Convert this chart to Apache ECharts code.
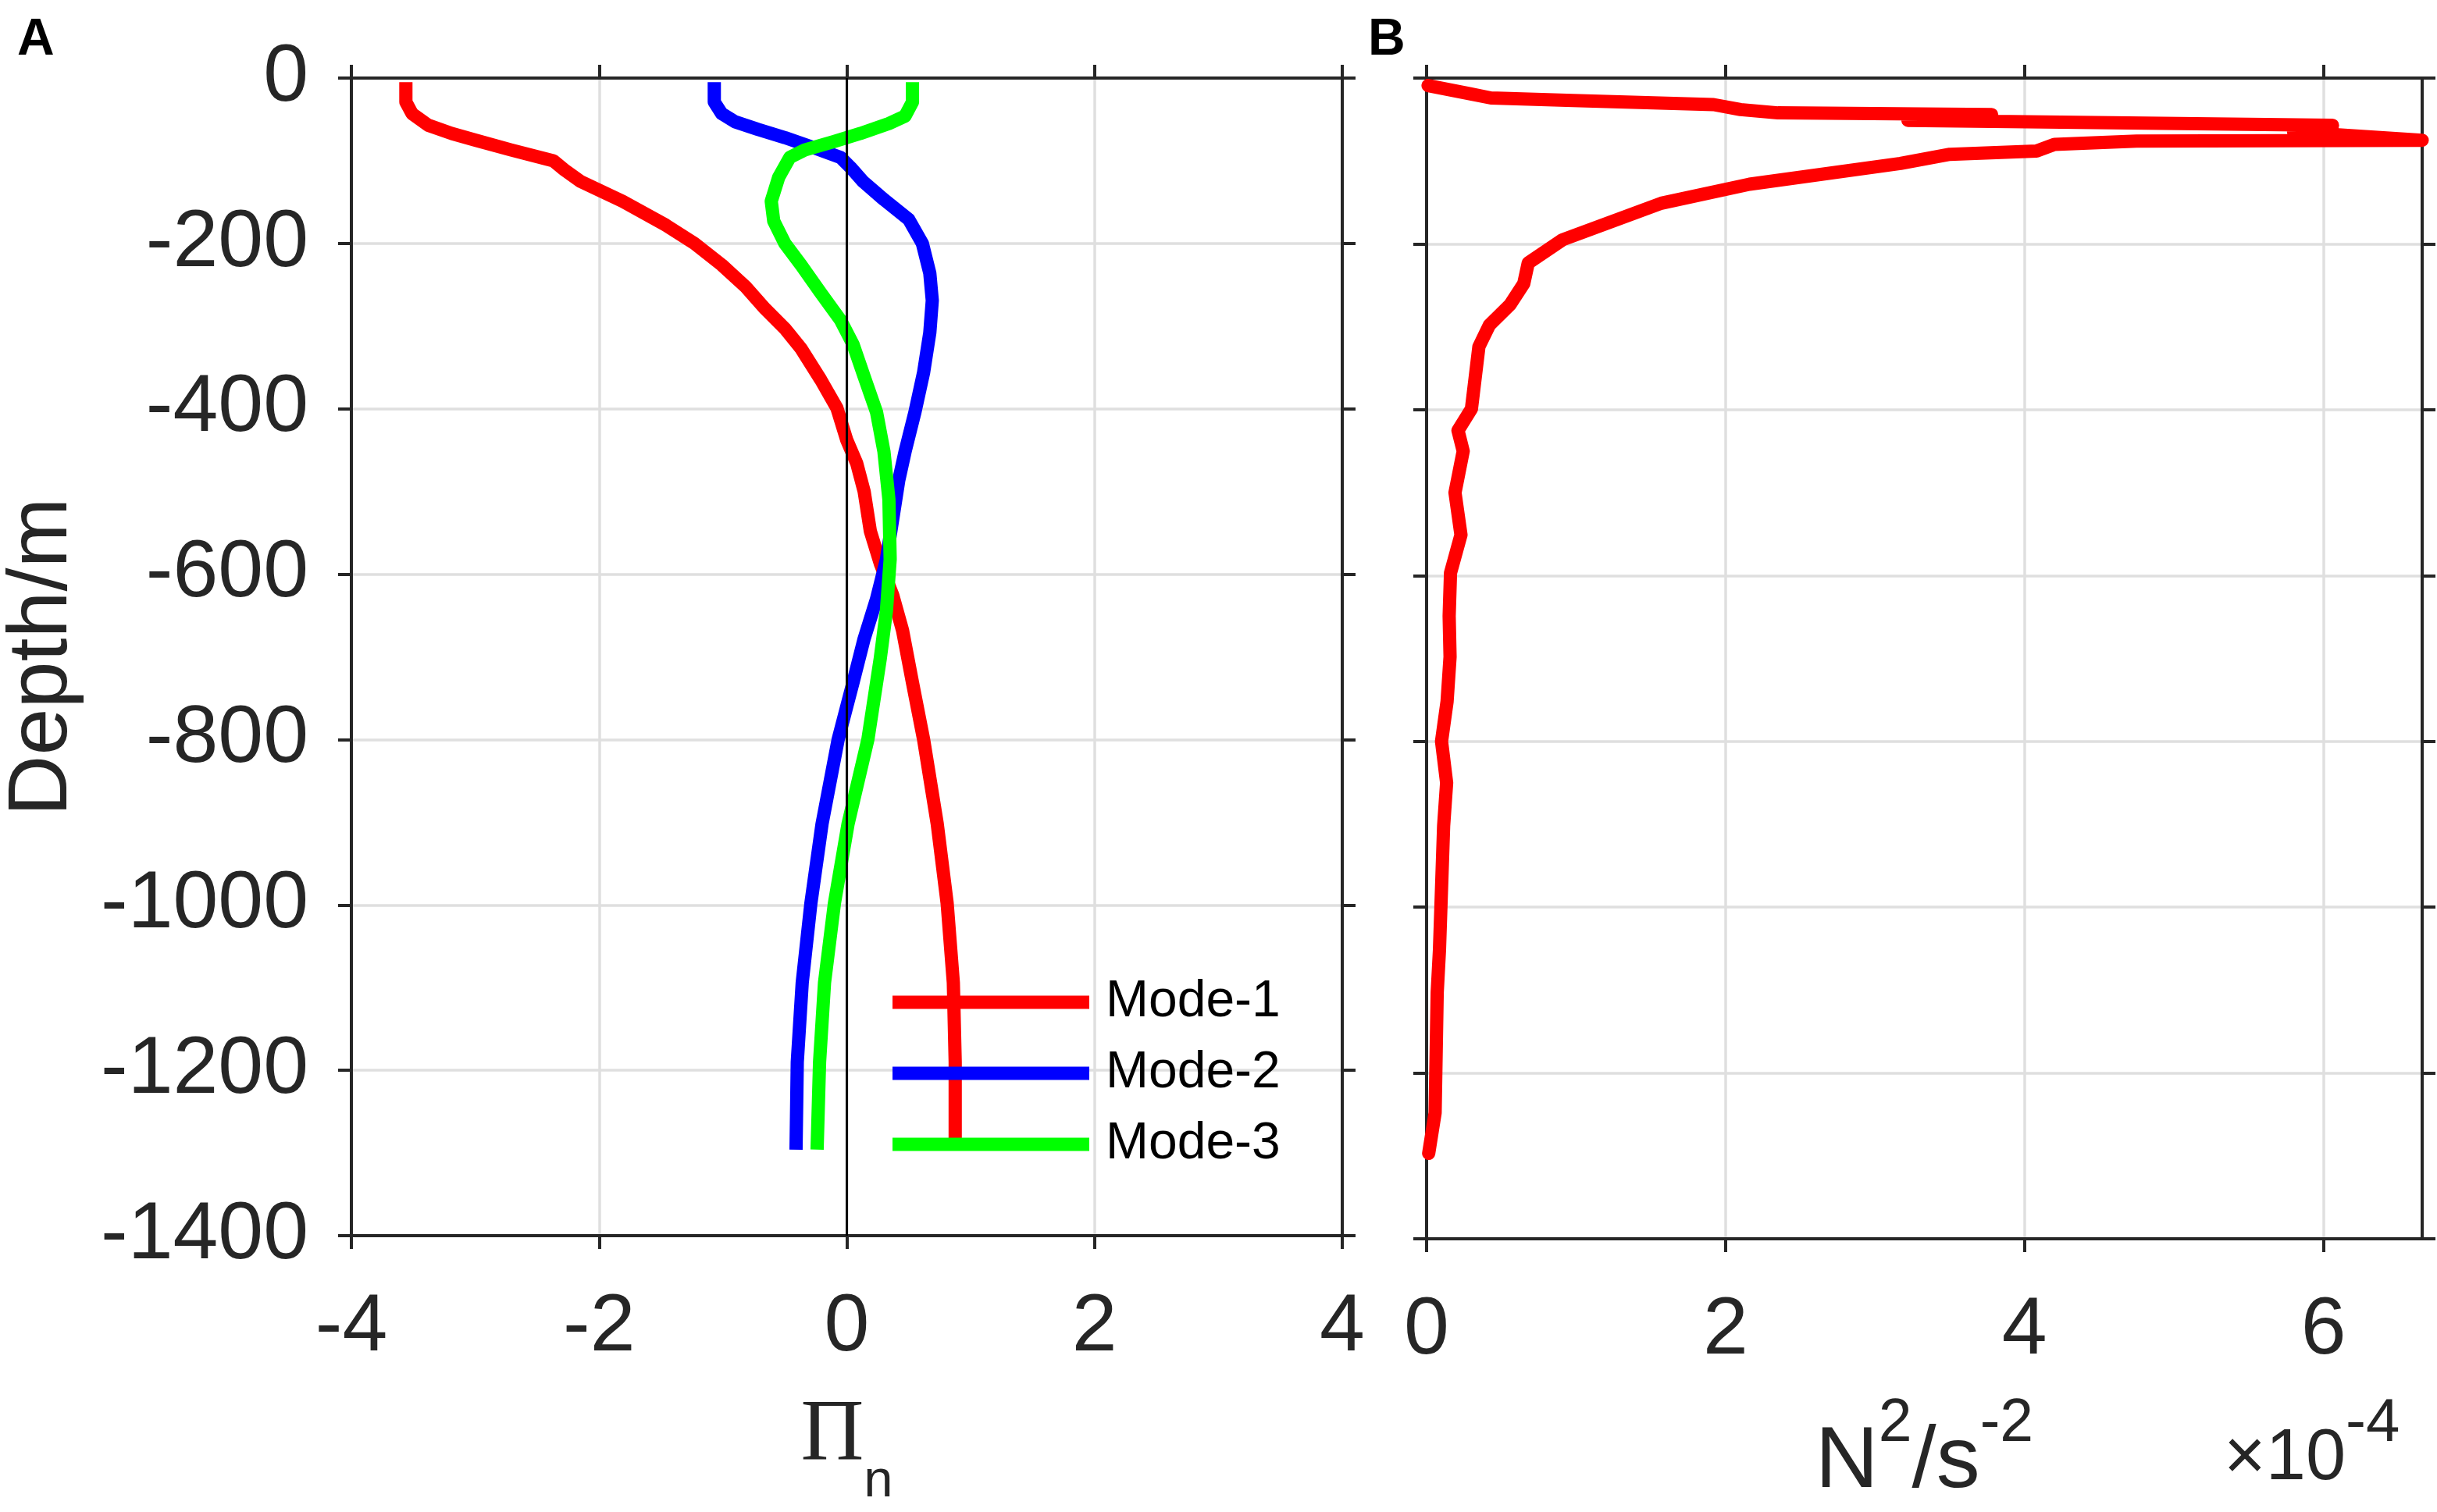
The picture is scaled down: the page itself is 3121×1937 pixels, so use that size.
<!DOCTYPE html>
<html lang="en">
<head>
    <meta charset="UTF-8">
    <title>Vertical modes and N2 profile</title>
    <script type="text/javascript" src="https://cdn.jsdelivr.net/npm/echarts@6/dist/echarts.min.js"></script>
    <style>html, body { margin: 0; padding: 0; background: #fff; }</style>
</head>
<body>
<div id="main" style="width: 3121px; height: 1937px"></div>

<script type="text/javascript">
    // Panel A: vertical structure of the first three modes (depth in m)
    var mode1Depth = [-5, -29, -43, -57, -67, -75, -87, -100, -111, -125, -149, -178, -200, -226, -252, -279, -303, -327, -365, -399,
        -438, -466, -500, -548, -587, -625, -668, -731, -800, -902, -998, -1094, -1190, -1296];
    var mode1 = [-3.56, -3.56, -3.51, -3.38, -3.19, -3.00, -2.71, -2.37, -2.28, -2.15, -1.81, -1.46, -1.23, -1.01, -0.82, -0.66, -0.50, -0.37, -0.21, -0.08,
        0.00, 0.08, 0.14, 0.19, 0.27, 0.37, 0.45, 0.53, 0.62, 0.73, 0.81, 0.86, 0.875, 0.875];

    var mode2Depth = [-5, -29, -43, -53, -62, -72, -84, -96, -108, -125, -147, -171, -200, -236, -269, -308, -356, -404, -452, -486,
        -534, -582, -630, -678, -731, -800, -902, -998, -1094, -1190, -1296];
    var mode2 = [-1.07, -1.07, -1.01, -0.90, -0.72, -0.50, -0.27, -0.05, 0.03, 0.13, 0.30, 0.50, 0.61, 0.67, 0.69, 0.67, 0.62, 0.55, 0.47, 0.42,
        0.37, 0.32, 0.24, 0.14, 0.05, -0.07, -0.20, -0.29, -0.36, -0.40, -0.41];

    var mode3Depth = [-5, -29, -46, -55, -67, -77, -87, -96, -120, -149, -173, -200, -226, -260, -293, -322, -361, -404, -452, -510,
        -582, -644, -702, -800, -902, -998, -1094, -1190, -1296];
    var mode3 = [0.53, 0.53, 0.47, 0.34, 0.11, -0.11, -0.34, -0.46, -0.55, -0.61, -0.59, -0.50, -0.37, -0.21, -0.05, 0.05, 0.14, 0.24, 0.30, 0.34,
        0.35, 0.32, 0.27, 0.17, 0.01, -0.10, -0.18, -0.22, -0.24];

    // Panel B: buoyancy frequency squared, in units of 1e-4 s^-2
    var n2Depth = [-9, -19, -24, -27, -32, -38, -42, -44, -51, -57, -65, -75, -76, -80, -88, -92, -103, -128, -151, -195,
        -223, -248, -273, -298, -324, -399, -425, -450, -500, -551, -597, -649, -698, -752, -800, -850, -902, -1052, -1103, -1248, -1297];
    var n2 = [0.01, 0.29, 0.43, 0.98, 1.92, 2.10, 2.35, 3.78, 3.22, 6.06, 5.80, 6.66, 4.75, 4.20, 4.08, 3.50, 3.17, 2.16, 1.57, 0.91,
        0.68, 0.65, 0.56, 0.42, 0.35, 0.30, 0.21, 0.245, 0.19, 0.23, 0.16, 0.151, 0.157, 0.137, 0.10, 0.134, 0.114, 0.086, 0.071, 0.057, 0.014];

    var modeNames = ['Mode-1', 'Mode-2', 'Mode-3'];
    var modeColors = ['#ff0000', '#0000ff', '#00ff00'];
    var n2Ticks = [0, 2, 4, 6];

    var AX = '#262626';
    var FONT = 'Liberation Sans';
    var LW = 17;

    function pairs(xs, ys) {
        var out = [];
        for (var i = 0; i < xs.length; i++) out.push([xs[i], ys[i]]);
        return out;
    }

    function frameAxis(extra) {
        var a = {
            type: 'value',
            axisLine: {show: true, onZero: false, lineStyle: {color: AX, width: 4}},
            axisTick: {show: true, inside: false, length: 17, lineStyle: {color: AX, width: 4}},
            axisLabel: {show: false},
            splitLine: {show: false}
        };
        for (var k in extra) a[k] = extra[k];
        return a;
    }

    var labelStyle = {show: true, fontSize: 104, fontFamily: FONT, color: AX,
        formatter: function (v) { return String(v); }};
    var gridLine = {show: true, lineStyle: {color: '#dfdfdf', width: 3.5}};

    var chartDom = document.getElementById('main');
    var myChart = echarts.init(chartDom);

    var modeData = [pairs(mode1, mode1Depth), pairs(mode2, mode2Depth), pairs(mode3, mode3Depth)];
    var series = modeData.map(function (d, i) {
        return {
            name: modeNames[i], type: 'line', xAxisIndex: 0, yAxisIndex: 0,
            data: d, showSymbol: false, clip: false, z: 3,
            lineStyle: {color: modeColors[i], width: LW, cap: 'butt', join: 'round'},
            itemStyle: {color: modeColors[i]}
        };
    });
    // black zero line in panel A
    series[2].markLine = {
        silent: true, symbol: ['none', 'none'], label: {show: false}, animation: false,
        lineStyle: {color: '#000', width: 3, type: 'solid'},
        emphasis: {disabled: true},
        data: [{xAxis: 0}]
    };
    series.push({
        name: 'N2', type: 'line', xAxisIndex: 2, yAxisIndex: 2,
        data: pairs(n2, n2Depth), showSymbol: false, clip: false, z: 3,
        lineStyle: {color: '#ff0000', width: LW, cap: 'round', join: 'round'},
        itemStyle: {color: '#ff0000'}
    });

    var option = {
        animation: false,
        backgroundColor: '#fff',
        title: [
            {text: 'A', left: 22, top: 19, padding: 0,
                textStyle: {fontFamily: FONT, fontWeight: 'bold', fontSize: 66, color: '#000'}},
            {text: 'B', left: 1752, top: 19, padding: 0,
                textStyle: {fontFamily: FONT, fontWeight: 'bold', fontSize: 66, color: '#000'}},
            {text: '{b|\u00d710}{s|-4}', left: 2848, top: 1785, padding: 0,
                textStyle: {fontWeight: 'normal', rich: {
                    b: {fontFamily: FONT, fontWeight: 'normal', fontSize: 92, color: AX, padding: [39, 0, 0, 0], verticalAlign: 'top'},
                    s: {fontFamily: FONT, fontWeight: 'normal', fontSize: 78, color: AX, verticalAlign: 'top'}
                }}}
        ],
        legend: {
            data: modeNames, orient: 'vertical', left: 1143, top: 1251, padding: 0,
            itemWidth: 252, itemHeight: 17, itemGap: 25, icon: 'rect', selectedMode: false,
            itemStyle: {borderWidth: 0},
            textStyle: {fontFamily: FONT, fontSize: 66, lineHeight: 65, color: '#000', padding: [0, 0, 0, 16]}
        },
        grid: [
            {left: 444, top: 100, width: 1275, height: 1487},
            {left: 1827, top: 100, width: 1275, height: 1487}
        ],
        xAxis: [
            frameAxis({gridIndex: 0, position: 'bottom', min: -4, max: 4, interval: 2,
                axisLabel: Object.assign({}, labelStyle, {margin: 66}), splitLine: gridLine,
                name: '{p|\u03a0}{n|n}', nameLocation: 'middle', nameGap: 202,
                nameTextStyle: {rich: {
                    p: {fontFamily: 'Liberation Serif', fontSize: 112, color: AX, verticalAlign: 'top'},
                    n: {fontFamily: FONT, fontSize: 67, color: AX, padding: [80, 0, 0, 0], verticalAlign: 'top'}
                }}}),
            frameAxis({gridIndex: 0, position: 'top', min: -4, max: 4, interval: 2}),
            frameAxis({gridIndex: 1, position: 'bottom', min: 0, max: 6.66, interval: 2,
                axisTick: {show: true, inside: false, length: 17, lineStyle: {color: AX, width: 4}, customValues: n2Ticks},
                axisLabel: Object.assign({}, labelStyle, {margin: 66, customValues: n2Ticks,
                    formatter: function (v) { return n2Ticks.indexOf(v) >= 0 ? String(v) : ''; }}),
                splitLine: gridLine,
                name: '{m|N}{p|2}{m|/s}{p|-2}', nameLocation: 'middle', nameGap: 199,
                nameTextStyle: {rich: {
                    m: {fontFamily: FONT, fontSize: 112, color: AX, padding: [32, 0, 0, 0], verticalAlign: 'top'},
                    p: {fontFamily: FONT, fontSize: 77, color: AX, verticalAlign: 'top'}
                }}}),
            frameAxis({gridIndex: 1, position: 'top', min: 0, max: 6.66, interval: 2,
                axisTick: {show: true, inside: false, length: 17, lineStyle: {color: AX, width: 4}, customValues: n2Ticks}})
        ],
        yAxis: [
            frameAxis({gridIndex: 0, position: 'left', min: -1400, max: 0, interval: 200,
                axisLabel: Object.assign({}, labelStyle, {margin: 55}), splitLine: gridLine,
                name: 'Depth/m', nameLocation: 'middle', nameRotate: 90, nameGap: 341,
                nameTextStyle: {fontFamily: FONT, fontSize: 108, color: AX}}),
            frameAxis({gridIndex: 0, position: 'right', min: -1400, max: 0, interval: 200}),
            frameAxis({gridIndex: 1, position: 'left', min: -1400, max: 0, interval: 200, splitLine: gridLine}),
            frameAxis({gridIndex: 1, position: 'right', min: -1400, max: 0, interval: 200})
        ],
        series: series
    };

    option && myChart.setOption(option);
</script>
</body>
</html>
